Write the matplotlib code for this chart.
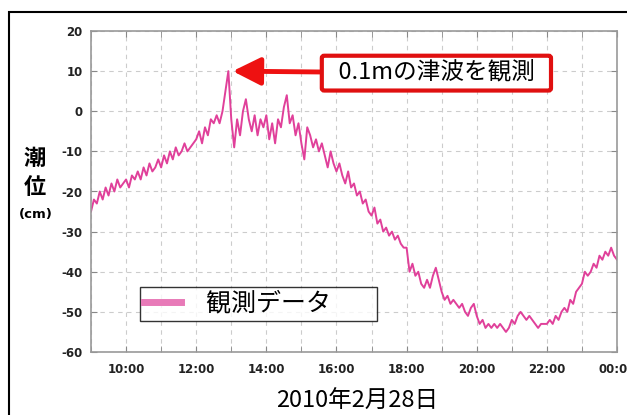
import numpy as np
import matplotlib.pyplot as plt
from matplotlib.patches import Rectangle

plt.rcParams['font.family'] = ['Noto Sans CJK JP', 'DejaVu Sans']

# 潮位 (cm), 5分ごと, 9:00 - 24:00
h09 = [-25, -22, -23, -20, -22, -19, -21, -18, -20, -17, -19, -18]
h10 = [-17, -19, -16, -17, -15, -17, -14, -16, -13, -15, -14, -12]
h11 = [-14, -11, -13, -10, -12, -9, -11, -10, -8, -10, -9, -8]
h12 = [-7, -5, -8, -4, -6, -2, -3, -1, -3, 0, 5, 10]
h13 = [-2, -9, -2, -6, 0, 3, -2, -5, -1, -6, -2, -4]
h14 = [-1, -7, -3, -8, -2, -4, 1, 4, -3, -1, -6, -3]
h15 = [-8, -12, -4, -6, -9, -7, -10, -8, -11, -14, -10, -13]
h16 = [-15, -13, -16, -18, -15, -19, -18, -21, -20, -23, -22, -25]
h17 = [-26, -24, -28, -27, -30, -29, -31, -30, -32, -31, -33, -34]
h18 = [-34, -40, -38, -41, -40, -43, -44, -42, -44, -41, -39, -42]
h19 = [-45, -47, -46, -48, -47, -48, -49, -48, -50, -51, -49, -48]
h20 = [-51, -53, -52, -54, -53, -54, -53, -54, -53, -54, -55, -54]
h21 = [-52, -53, -51, -50, -51, -52, -51, -52, -53, -54, -53, -53]
h22 = [-53, -52, -53, -51, -52, -50, -49, -50, -47, -48, -45, -44]
h23 = [-43, -40, -41, -40, -38, -39, -36, -37, -35, -36, -34, -36]
h24 = [-37]

level = h09 + h10 + h11 + h12 + h13 + h14 + h15 + h16 + h17 + h18 + h19 + h20 + h21 + h22 + h23 + h24
hours = 9 + np.arange(len(level)) * 5 / 60

xticks = [10, 12, 14, 16, 18, 20, 22, 24]
xticklabels = ["10:00", "12:00", "14:00", "16:00", "18:00", "20:00", "22:00", "00:00"]
yticks = [20, 10, 0, -10, -20, -30, -40, -50, -60]

fig = plt.figure(figsize=(6.27, 4.15), dpi=100)
fig.patches.append(Rectangle((9 / 627, -0.05), 1.0, 1 - 12 / 415 + 0.05,
                             transform=fig.transFigure, fill=False,
                             edgecolor='black', linewidth=1.5))

ax = fig.add_axes([91 / 627, 1 - 352 / 415, 526 / 627, 321 / 415])
ax.plot(hours, level, color='#e0409a', linewidth=1.4)

ax.set_xlim(9, 24)
ax.set_ylim(-60, 20)
ax.set_xticks(xticks)
ax.set_xticklabels(xticklabels, family='DejaVu Sans', fontweight='bold', fontsize=8.5, color='#222222')
ax.set_xticks(range(9, 25), minor=True)
ax.set_yticks(yticks)
ax.set_yticklabels([str(v) for v in yticks], family='DejaVu Sans', fontweight='bold', fontsize=8.5, color='#222222')
ax.tick_params(which='both', direction='in', top=True, right=True, length=4, color='#888888', pad=6)
ax.tick_params(axis='x', which='major', pad=8)
ax.grid(True, which='both', axis='x', linestyle=(0, (4, 4)), color='#cccccc', linewidth=0.8)
ax.grid(True, which='major', axis='y', linestyle=(0, (4, 4)), color='#cccccc', linewidth=0.8)
for s in ax.spines.values():
    s.set_color('#999999')
    s.set_linewidth(1.2)

fig.text(35 / 627, 1 - 158 / 415, "潮", ha='center', va='center', fontsize=16, fontweight='bold')
fig.text(35 / 627, 1 - 187 / 415, "位", ha='center', va='center', fontsize=16, fontweight='bold')
fig.text(36 / 627, 1 - 214 / 415, "(cm)", ha='center', va='center', fontsize=9.5, fontweight='bold',
         family='DejaVu Sans')
fig.text(357 / 627, 1 - 401 / 415, "2010年2月28日", ha='center', va='center', fontsize=17)

ax.annotate("  0.1mの津波を観測  ", xy=(13.04, 10), xytext=(18.85, 9.5),
            fontsize=17, ha='center', va='center',
            bbox=dict(boxstyle='round,pad=0.25,rounding_size=0.1', fc='white', ec='#e01010', lw=3),
            arrowprops=dict(arrowstyle='-|>,head_length=1.0,head_width=0.5', color='#ee1111', lw=3.5,
                            shrinkA=0, shrinkB=0))

leg = ax.legend([plt.Line2D([], [], color='#e87ab8', lw=5)], ["観測データ　   "],
                loc='upper left', bbox_to_anchor=(49 / 526, 1 - 256 / 321), borderaxespad=0,
                fontsize=18, frameon=True, fancybox=False, handlelength=1.5,
                borderpad=0.15, handletextpad=1.0)
leg.get_frame().set_edgecolor('black')
leg.get_frame().set_linewidth(1.0)

fig.savefig("out.png", dpi=100)
